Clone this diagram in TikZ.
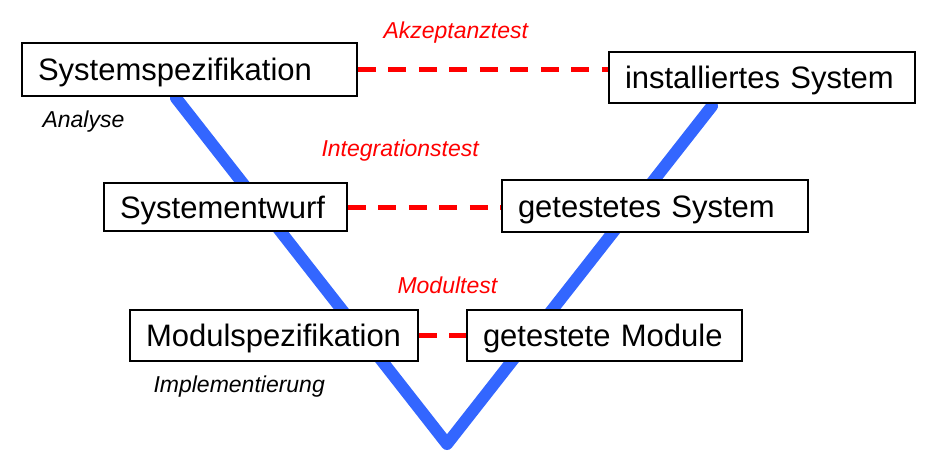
\documentclass[tikz,border=0pt]{standalone}
\usepackage{fontspec}
\setmainfont{Liberation Sans}
\usetikzlibrary{calc}

\definecolor{vblue}{RGB}{51,102,255}

\begin{document}
\begin{tikzpicture}[x=1pt, y=-1pt,
    box/.style={draw, line width=1.5pt, fill=white, inner xsep=16pt, inner ysep=0pt,
        align=left, text height=22pt, text depth=0pt, font=\fontsize{31}{36}\selectfont},
    phase/.style={anchor=base west, font=\fontsize{23}{28}\selectfont\itshape},
    testline/.style={red, line width=5pt, dash pattern=on 18pt off 12.5pt}]
    \useasboundingbox (0,0) rectangle (932,471);
    % the V
    \coordinate (vl) at (176,98);
    \coordinate (vtip) at (447,444);
    \coordinate (vr) at (712,106);
    \draw[vblue, line width=12pt, line cap=round, line join=round] (vl) -- (vtip) -- (vr);
    % boxes
    \node[box, text width=303pt, minimum height=53pt] (spez) at (189.5,69.5) {Systemspezifikation};
    \node[box, text width=274pt, minimum height=51pt] (inst) at (762,77.5) {installiertes System};
    \node[box, text width=211pt, minimum height=48pt] (entwurf) at (225.5,207) {Systementwurf};
    \node[box, text width=274pt, minimum height=52pt] (gsys) at (655,206) {getestetes System};
    \node[box, text width=256pt, minimum height=51pt] (modspez) at (274,335.5) {Modulspezifikation};
    \node[box, text width=243pt, minimum height=51pt] (gmod) at (604.5,335.5) {getestete Module};
    % tests
    \draw[testline] (spez.east) -- (spez.east -| inst.west);
    \draw[testline] (entwurf.east) -- (entwurf.east -| gsys.west);
    \draw[testline] (modspez.east) -- (modspez.east -| gmod.west);
    \node[phase, red] (akz) at (380,38) {Akzeptanztest};
    \node[phase, red] (integ) at (318,156) {Integrationstest};
    \node[phase, red] (modtest) at (394,293) {Modultest};
    \node[phase] (analyse) at (39,127) {Analyse};
    \node[phase] (impl) at (150,392) {Implementierung};
\end{tikzpicture}
\end{document}
